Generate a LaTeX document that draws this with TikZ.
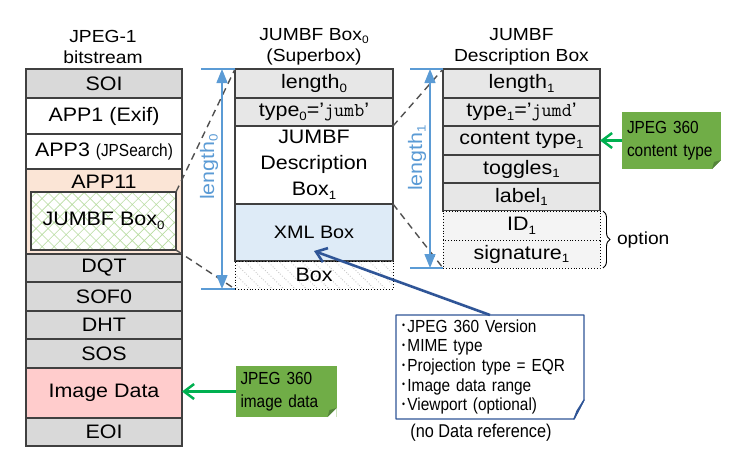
\documentclass[tikz,border=0pt]{standalone}
\usepackage{fontspec}
\usepackage{graphicx}
\setmainfont{Liberation Sans}[FakeStretch=1.1]
\newfontfamily\narrowfont{Liberation Sans}[FakeStretch=0.88]
\usetikzlibrary{arrows.meta,patterns.meta,decorations.pathreplacing,positioning}

\definecolor{cellGray}{HTML}{D9D9D9}
\definecolor{cellLight}{HTML}{E7E7E7}
\definecolor{cellLine}{HTML}{404040}
\definecolor{appPeach}{HTML}{FBE5D6}
\definecolor{imgPink}{HTML}{FFCCCC}
\definecolor{xmlBlue}{HTML}{DEEBF7}
\definecolor{dimBlue}{HTML}{5B9BD5}
\definecolor{arrowGreen}{HTML}{00B050}
\definecolor{noteGreen}{HTML}{70AD47}
\definecolor{foldGreen}{HTML}{54843A}
\definecolor{calloutBlue}{HTML}{2F5597}
\definecolor{hatchGray}{HTML}{C8C8C8}
\definecolor{crossGreen}{HTML}{B8DCA0}
\definecolor{optFill}{HTML}{F4F4F4}
\definecolor{zoomGray}{HTML}{505050}

\newcommand\bigtxt{\fontsize{19.5}{26}\selectfont}
\newcommand\titletxt{\fontsize{17.5}{21}\selectfont}
\newcommand\greentxt{\narrowfont\fontsize{17.5}{23}\selectfont}
\newcommand\notetxt{\narrowfont\fontsize{17.5}{19.7}\selectfont}
\newcommand\ix[1]{\raisebox{-0.35ex}{\scalebox{0.62}{#1}}}
\newcommand\dotitem{\raisebox{0.35ex}{\scalebox{0.55}{\textbullet}}\hspace{2.5pt}}

\begin{document}
\begin{tikzpicture}
    [x=1pt, y=-1pt,
     every node/.style={inner sep=0pt, outer sep=0pt},
     cell/.style={draw=cellLine, line width=1.2pt, font=\bigtxt, minimum height=28pt},
     leftcell/.style={cell, minimum width=156pt},
     midcell/.style={cell, minimum width=158pt},
     rightcell/.style={cell, minimum width=157pt},
     optcell/.style={rightcell, draw=black, line width=0.9pt, dotted, fill=optFill},
     title/.style={font=\titletxt, align=center},
     dimline/.style={draw=dimBlue, line width=1.3pt,
       {Triangle[length=14pt,width=11pt]}-{Triangle[length=14pt,width=11pt]}},
     tick/.style={draw=dimBlue, line width=1.3pt},
     dimlabel/.style={text=dimBlue, font=\bigtxt, rotate=90},
     zoomline/.style={draw=zoomGray, line width=1.4pt, dash pattern=on 7pt off 5pt},
     greennote/.style={fill=noteGreen, font=\greentxt, align=left, inner xsep=5pt},
     greenarrow/.style={draw=arrowGreen, line width=2.5pt,
       -{Straight Barb[length=10pt,width=15pt]}},
     pointer/.style={draw=calloutBlue, line width=2.6pt,
       -{Straight Barb[length=10pt,width=15pt]}},
     calloutedge/.style={draw=calloutBlue, line width=1.3pt, line join=round}]

    \useasboundingbox (0,0) rectangle (737,469);

    % titles
    \node[title] (titleA) at (103,47) {JPEG-1\\bitstream};
    \node[title] (titleB) at (314,47) {JUMBF Box\ix{0}\\(Superbox)};
    \node[title] (titleC) at (521.5,47) {JUMBF\\Description Box};

    % JPEG-1 bitstream
    \node[leftcell, fill=cellGray, minimum height=29pt] (soi) at (104,83.5) {SOI};
    \node[leftcell, minimum height=36pt] (app1) at (104,116) {APP1 (Exif)};
    \node[leftcell, minimum height=35pt] (app3) at (104,151.5)
      {APP3 {\narrowfont\fontsize{17.5}{20}\selectfont(JPSearch)}};
    \node[leftcell, fill=appPeach, minimum height=85pt] (app11) at (104,211.5) {};
    \node[font=\bigtxt] (app11lbl) at (104,182) {APP11};
    \node[cell, minimum width=145pt, minimum height=58pt,
      preaction={fill=white}, pattern color=crossGreen,
      pattern={Hatch[angle=45,distance=8.5pt,line width=0.6pt]}] (jbox0) at (103.5,221) {JUMBF Box\ix{0}};
    \foreach \nm/\yc/\hh/\txt in {dqt/268/28/DQT, sof/296.5/29/SOF0,
                                  dht/325/28/DHT, sos/353.5/29/SOS, eoi/432/28/EOI}
    {
      \node[leftcell, fill=cellGray, minimum height=\hh pt] (\nm) at (104,\yc) {\txt};
    }
    \node[leftcell, fill=imgPink, minimum height=50pt] (imgdata) at (104,393) {Image Data};

    % JUMBF superbox
    \node[midcell, fill=cellLight, minimum height=29pt] (len0) at (314,83.5) {length\ix{0}};
    \node[midcell, fill=cellLight] (type0) at (314,112)
      {type\ix{0}=\textquoteright\texttt{jumb}\textquoteright};
    \node[midcell, fill=white, minimum height=78pt, align=center] (desc1) at (314,165)
      {JUMBF\\Description\\Box\ix{1}};
    \node[midcell, fill=xmlBlue, minimum height=57pt,
      font=\fontsize{18}{22}\selectfont] (xml) at (314,232.5) {XML Box};
    \node[midcell, draw=black, line width=0.9pt, dotted, pattern color=hatchGray,
      pattern={Lines[angle=-45,distance=8pt,line width=0.9pt]}] (box) at (314,275) {Box};

    % description box
    \node[rightcell, fill=cellLight, minimum height=29pt] (len1) at (521.5,83.5) {length\ix{1}};
    \node[rightcell, fill=cellLight] (type1) at (521.5,112)
      {type\ix{1}=\textquoteright\texttt{jumd}\textquoteright};
    \node[rightcell, fill=cellLight, minimum height=29pt] (ctype) at (521.5,140.5) {content type\ix{1}};
    \node[rightcell, fill=cellLight] (tog) at (521.5,169) {toggles\ix{1}};
    \node[rightcell, fill=cellLight] (lab) at (521.5,197) {label\ix{1}};
    \node[optcell, minimum height=29pt] (id) at (521.5,225.5) {ID\ix{1}};
    \node[optcell] (sig) at (521.5,254) {signature\ix{1}};

    \draw[decorate, decoration={brace, amplitude=7pt}, line width=0.9pt]
      ([xshift=3pt]id.north east) -- ([xshift=3pt]sig.south east)
      node[midway, right=14pt, font=\fontsize{17.5}{20}\selectfont] (opt) {option};

    % zoom lines
    \draw[zoomline] (jbox0.north east) -- (len0.north west);
    \draw[zoomline] (jbox0.south east) -- (box.south west);
    \draw[zoomline] (type0.south east) -- (len1.north west);
    \draw[zoomline] (desc1.south east) -- (sig.south west);

    % lengths
    \coordinate (k0top) at (201,69);
    \coordinate (k0bot) at (201,289);
    \coordinate (d0top) at (222,69);
    \coordinate (d0bot) at (222,289);
    \draw[tick] (k0top) -- (len0.north west);
    \draw[tick] (k0bot) -- (box.south west);
    \draw[dimline] (d0top) -- (d0bot);
    \node[dimlabel] (len0lbl) at (209,167) {length\ix{0}};

    \coordinate (k1top) at (410,69);
    \coordinate (k1bot) at (410,268);
    \coordinate (d1top) at (430,69);
    \coordinate (d1bot) at (430,268);
    \draw[tick] (k1top) -- (len1.north west);
    \draw[tick] (k1bot) -- (sig.south west);
    \draw[dimline] (d1top) -- (d1bot);
    \node[dimlabel] (len1lbl) at (417,158) {length\ix{1}};

    % green notes
    \node[greennote, minimum width=99pt, minimum height=57pt, text width=89pt] (ctnote)
      at (671.5,140.5) {JPEG 360\\content type};
    \fill[white] (ctnote.south east) -- ++(-9,0) -- ++(9,-9) -- cycle;
    \fill[foldGreen] ([xshift=-9pt]ctnote.south east) -- ([yshift=9pt]ctnote.south east)
      -- ([xshift=-7pt,yshift=7pt]ctnote.south east) -- cycle;
    \draw[greenarrow] (ctnote.west) -- (ctype.east);

    \node[greennote, minimum width=100pt, minimum height=51pt, text width=91pt] (imnote)
      at (286,391.5) {JPEG 360\\image data};
    \fill[white] (imnote.south east) -- ++(-9,0) -- ++(9,-9) -- cycle;
    \fill[foldGreen] ([xshift=-9pt]imnote.south east) -- ([yshift=9pt]imnote.south east)
      -- ([xshift=-7pt,yshift=7pt]imnote.south east) -- cycle;
    \draw[greenarrow] (imnote.west) -- (imnote.west -| imgdata.east);

    % xml box callout
    \node[fill=white, font=\notetxt, align=left, minimum width=186pt, minimum height=104pt,
      text width=176pt, inner xsep=6pt] (xmlnote) at (490,367)
      {\dotitem JPEG 360 Version\\\dotitem MIME type\\\dotitem Projection type = EQR\\
       \dotitem Image data range\\\dotitem Viewport (optional)};
    \draw[calloutedge] (xmlnote.north west) -- (xmlnote.north east)
      -- ([yshift=19pt]xmlnote.south east) -- ([xshift=-10pt]xmlnote.south east)
      -- (xmlnote.south west) -- cycle;
    \draw[calloutedge] ([xshift=-10pt]xmlnote.south east) -- ([yshift=19pt]xmlnote.south east)
      -- ([xshift=-7pt,yshift=8pt]xmlnote.south east) -- cycle;
    \coordinate (xmlptr) at ([yshift=10pt]xml.south);
    \draw[pointer] (xmlnote.north) -- (xmlptr);
    \node[font=\narrowfont\fontsize{18.5}{20}\selectfont] (nodata) at (481,433)
      {(no Data reference)};
  \end{tikzpicture}
\end{document}
